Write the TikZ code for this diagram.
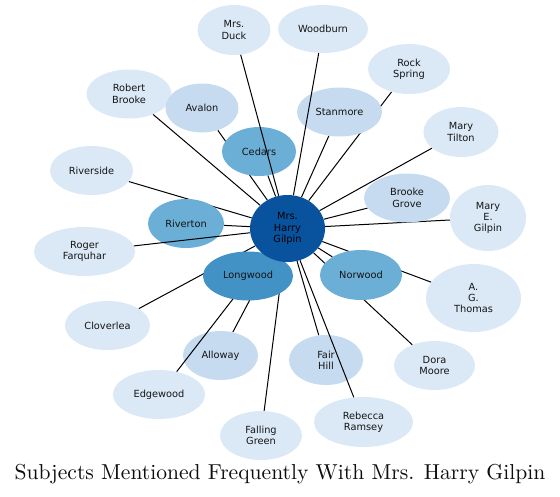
\documentclass[tikz,border=0pt]{standalone}
\usepackage{fontspec}
\newfontfamily\nodefont{DejaVu Sans}
\newfontfamily\titlefont{lmroman10-regular}[Extension=.otf]
\usetikzlibrary{shapes.geometric}
\definecolor{leaf}{RGB}{219,233,246}
\definecolor{midl}{RGB}{198,219,239}
\definecolor{midc}{RGB}{107,174,214}
\definecolor{deep}{RGB}{66,146,198}
\definecolor{hubc}{RGB}{9,82,158}
\pgfdeclarelayer{edgesA}
\pgfdeclarelayer{nodesA}
\pgfdeclarelayer{edgesB}
\pgfsetlayers{edgesA,nodesA,edgesB,main}
\begin{document}
\begin{tikzpicture}[x=1pt,y=-1pt,
  bub/.style={ellipse, inner sep=0pt, align=center, text=black!92,
    font=\nodefont\fontsize{9.8}{11.4}\selectfont},
  link/.style={draw=black, line width=1pt}]
\useasboundingbox (0,0) rectangle (560,496);
\begin{pgfonlayer}{nodesA}
\node[bub, fill=leaf, minimum width=73, minimum height=50] (duck) at (234,30) {Mrs.\\Duck};
\node[bub, fill=leaf, minimum width=90, minimum height=48] (woodburn) at (323,29) {Woodburn};
\node[bub, fill=leaf, minimum width=82, minimum height=50] (rock) at (409,69) {Rock\\Spring};
\node[bub, fill=midl, minimum width=85, minimum height=49] (stanmore) at (339.5,112) {Stanmore};
\node[bub, fill=leaf, minimum width=75, minimum height=50] (tilton) at (461,132) {Mary\\Tilton};
\node[bub, fill=midl, minimum width=86, minimum height=49] (brooke) at (407,198) {Brooke\\Grove};
\node[bub, fill=leaf, minimum width=76, minimum height=66] (megilpin) at (488,218) {Mary\\E.\\Gilpin};
\node[bub, fill=leaf, minimum width=85, minimum height=49] (robert) at (129,94) {Robert\\Brooke};
\node[bub, fill=midl, minimum width=73, minimum height=49] (avalon) at (202,108) {Avalon};
\node[bub, fill=midc, minimum width=74, minimum height=49] (cedars) at (259,151.5) {Cedars};
\node[bub, fill=leaf, minimum width=83, minimum height=49] (riverside) at (91.5,170.5) {Riverside};
\node[bub, fill=midc, minimum width=76, minimum height=49] (riverton) at (186,223.5) {Riverton};
\node[bub, fill=leaf, minimum width=101, minimum height=49] (roger) at (84.5,251.5) {Roger\\Farquhar};
\node[bub, fill=leaf, minimum width=85, minimum height=49] (cloverlea) at (107.5,325.5) {Cloverlea};
\node[bub, fill=midl, minimum width=75, minimum height=49] (alloway) at (220.5,355.5) {Alloway};
\node[bub, fill=leaf, minimum width=92, minimum height=49] (edgewood) at (159,394.5) {Edgewood};
\node[bub, fill=leaf, minimum width=82, minimum height=49] (falling) at (261,435.5) {Falling\\Green};
\node[bub, fill=midc, minimum width=82, minimum height=50] (norwood) at (361,275) {Norwood};
\node[bub, fill=leaf, minimum width=95, minimum height=68] (thomas) at (473.5,298) {A.\\G.\\Thomas};
\node[bub, fill=leaf, minimum width=81, minimum height=49] (dora) at (434.5,365.5) {Dora\\Moore};
\node[bub, fill=midl, minimum width=74, minimum height=50] (fair) at (326,360) {Fair\\Hill};
\node[bub, fill=leaf, minimum width=99, minimum height=50] (rebecca) at (363.5,422) {Rebecca\\Ramsey};
\end{pgfonlayer}
\node[bub, fill=deep, minimum width=90, minimum height=49] (longwood) at (248,276) {Longwood};
\node[bub, fill=hubc, text=black, minimum width=75, minimum height=67] (hub) at (287.5,228.5) {Mrs.\\Harry\\Gilpin};
\begin{pgfonlayer}{edgesA}
\foreach \t in {rock,stanmore,tilton,brooke,megilpin,robert,avalon,cedars,riverside,riverton,cloverlea,alloway,falling,norwood,thomas,dora,fair,longwood}
  \draw[link] (hub) -- (\t);
\end{pgfonlayer}
\begin{pgfonlayer}{edgesB}
\foreach \t in {duck,woodburn,roger,edgewood,rebecca}
  \draw[link] (hub) -- (\t);
\end{pgfonlayer}
\node[font=\titlefont\fontsize{21.6}{25}\selectfont, text=black!95, inner sep=0pt] (title) at (280,474) {Subjects Mentioned Frequently With Mrs. Harry Gilpin};
\end{tikzpicture}
\end{document}
